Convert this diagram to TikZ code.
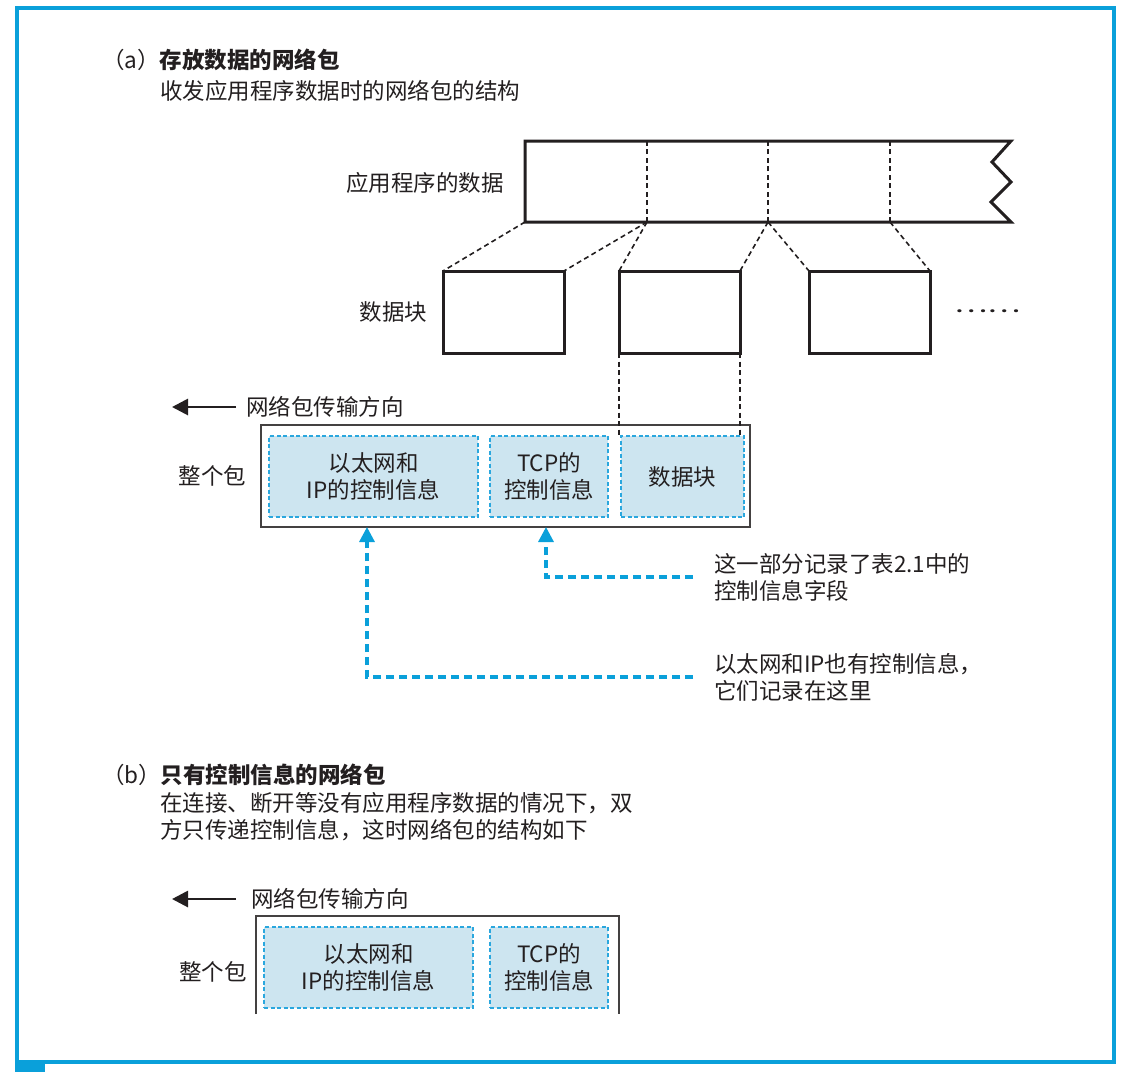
\documentclass[tikz,border=0pt]{standalone}
\usepackage{fontspec}
\setmainfont{Noto Sans CJK SC}
\usetikzlibrary{arrows.meta, positioning, calc}
\definecolor{framecol}{HTML}{0AA0DA}
\definecolor{cellfill}{HTML}{CDE5F0}
\definecolor{celledge}{HTML}{2AA7DE}
\definecolor{inkcol}{HTML}{231F20}

\begin{document}
\begin{tikzpicture}[x=1pt,y=-1pt,
  every node/.style={inner sep=0pt,outer sep=0pt,text=inkcol,font=\fontsize{22.5}{27}\selectfont},
  chunk/.style={draw=inkcol,line width=3pt,minimum width=121pt,minimum height=82pt},
  cell/.style={draw=celledge,fill=cellfill,dash pattern=on 4pt off 2.5pt,line width=1.2pt,minimum height=81pt,align=center},
  guide/.style={draw=inkcol,line width=1.6pt,dash pattern=on 5pt off 3.5pt},
  callout/.style={draw=framecol,line width=3.2pt,dash pattern=on 8pt off 5pt,-{Triangle[width=15pt,length=15pt]}},
  dirarrow/.style={draw=inkcol,line width=2.8pt,-{Triangle[width=16pt,length=16pt]}},
  pktline/.style={draw=inkcol!85,line width=1.4pt},
  title/.style={anchor=west,font=\fontsize{22.5}{27}\selectfont\bfseries},
  note/.style={anchor=west,align=left,inner xsep=21pt}]
\useasboundingbox (0,0) rectangle (1124,1072);
\fill[white] (0,0) rectangle (1124,1072);
\draw[framecol,line width=4pt] (17,8) rectangle (1114,1062);
\fill[framecol] (15,1060) rectangle (45,1072);

\node[title] (titleA) at (102,60) {{\mdseries（a）}存放数据的网络包};
\node[anchor=west] (subA) at (160,91) {收发应用程序数据时的网络包的结构};

\draw[inkcol,line width=3pt,line join=miter] (525,141) -- (1011,141) -- (992,162) -- (1011,182) -- (991,202) -- (1011,222) -- (525,222) -- cycle;
\node (barlabel) at (425,183) {应用程序的数据};
\coordinate (cut0) at (525,222);
\coordinate (cut1) at (647,222);
\coordinate (cut2) at (768,222);
\coordinate (cut3) at (890,222);
\foreach \c in {cut1,cut2,cut3}
  \draw[guide] (\c) -- ++(0,-81);

\node[chunk] (chunk1) at (503.5,312) {};
\node[chunk,right=55pt of chunk1] (chunk2) {};
\node[chunk,right=69pt of chunk2] (chunk3) {};
\node[left=16pt of chunk1] (chunklabel) {数据块};
\node[right=24pt of chunk3] (more) {\raisebox{1pt}{\scalebox{1.4}[1]{……}}};

\draw[guide] (cut0) -- (chunk1.north west);
\draw[guide] (cut1) -- (chunk1.north east);
\draw[guide] (cut1) -- (chunk2.north west);
\draw[guide] (cut2) -- (chunk2.north east);
\draw[guide] (cut2) -- (chunk3.north west);
\draw[guide] (cut3) -- (chunk3.north east);

\node[anchor=west] (dirA) at (246,407) {网络包传输方向};
\coordinate (dirAend) at (172,407);
\draw[dirarrow] ([xshift=-10pt]dirA.west) -- (dirAend);

\node[pktline,draw,minimum width=489pt,minimum height=102pt] (pktA) at (505.5,476) {};
\node[cell,minimum width=209pt] (ipA) at (373.5,476.5) {以太网和\\IP的控制信息};
\node[cell,minimum width=118pt,right=12pt of ipA] (tcpA) {TCP的\\控制信息};
\node[cell,minimum width=123pt,right=13pt of tcpA] (dataA) {数据块};
\node[left=15pt of pktA] (wholeA) {整个包};

\draw[guide] (chunk2.south west) -- (chunk2.south west |- dataA.north);
\draw[guide] (chunk2.south east) -- (chunk2.south east |- dataA.north);

\node[note] (tcpnote) at (693,577) {这一部分记录了表2.1中的\\控制信息字段};
\node[note] (ipnote) at (693,677) {以太网和IP也有控制信息，\\它们记录在这里};
\coordinate (tipB) at ($(tcpA.south |- pktA.south)+(-3,0)$);
\coordinate (tipA) at ($(ipA.south |- pktA.south)+(-6.5,0)$);
\draw[callout] (tcpnote.west) -| (tipB);
\draw[callout] (ipnote.west) -| (tipA);

\node[title] (titleB) at (102,775) {{\mdseries（b）}只有控制信息的网络包};
\node[anchor=west,align=left] (subB) at (160,817) {在连接、断开等没有应用程序数据的情况下，双\\方只传递控制信息，这时网络包的结构如下};

\node[anchor=west] (dirB) at (251,899) {网络包传输方向};
\coordinate (dirBend) at (172,899);
\draw[dirarrow] ([xshift=-15pt]dirB.west) -- (dirBend);

\draw[pktline] (256,1014) |- (619,916) -- (619,1014);
\node[cell,minimum width=209pt] (ipB) at (368.5,967.5) {以太网和\\IP的控制信息};
\node[cell,minimum width=118pt,right=17pt of ipB] (tcpB) {TCP的\\控制信息};
\node (wholeB) at (213,972) {整个包};
\end{tikzpicture}
\end{document}
